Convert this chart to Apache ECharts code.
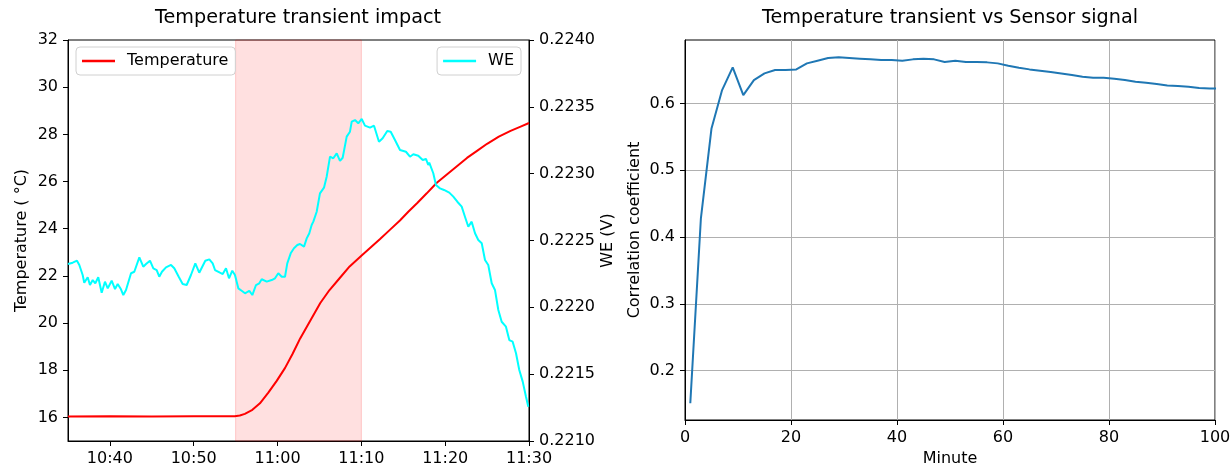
<!DOCTYPE html>
<html><head><meta charset="utf-8">
<script src="https://cdn.jsdelivr.net/npm/echarts@6/dist/echarts.min.js"></script>
<style>html,body{margin:0;padding:0;background:#fff}#c{width:1231px;height:466px}</style>
</head><body><div id="c"></div>
<script>
// time values are minutes after 10:00
const tempTime = [35, 40, 45, 50, 54.9, 55.5, 56.1, 57.0, 57.9, 58.9, 59.9, 60.9, 61.8, 62.7, 63.9, 65.1, 66.2, 67.4, 68.6, 70.0, 71.1, 72.2, 73.4, 74.6, 75.6, 76.7, 77.8, 79.0, 80.2, 81.4, 82.6, 83.8, 85.0, 86.4, 87.8, 89.0, 90.0];
const tempValue = [16.04, 16.05, 16.04, 16.05, 16.05, 16.08, 16.15, 16.32, 16.6, 17.05, 17.55, 18.1, 18.7, 19.35, 20.1, 20.85, 21.4, 21.9, 22.4, 22.85, 23.2, 23.55, 23.95, 24.35, 24.72, 25.1, 25.5, 25.95, 26.3, 26.65, 27.0, 27.3, 27.6, 27.9, 28.15, 28.33, 28.48];

const weTime = [35.00, 35.56, 36.07, 36.35, 36.75, 36.94, 37.35, 37.62, 37.95, 38.26, 38.61, 39.02, 39.41, 39.74, 40.21, 40.61, 40.93, 41.32, 41.60, 41.92, 42.52, 42.91, 43.51, 43.98, 44.31, 44.78, 45.18, 45.58, 45.89, 46.21, 46.69, 47.29, 47.68, 48.21, 48.68, 49.16, 49.67, 50.19, 50.66, 51.38, 51.86, 52.26, 52.54, 53.13, 53.46, 53.85, 54.21, 54.60, 54.92, 55.32, 55.72, 56.12, 56.63, 56.99, 57.43, 57.82, 58.11, 58.71, 59.30, 59.70, 60.09, 60.50, 60.89, 61.16, 61.57, 61.96, 62.36, 62.68, 63.16, 63.48, 63.79, 64.07, 64.27, 64.67, 65.06, 65.54, 65.86, 66.26, 66.65, 67.06, 67.45, 67.77, 68.25, 68.64, 68.85, 69.24, 69.63, 70.04, 70.43, 71.03, 71.51, 72.10, 72.54, 73.09, 73.50, 74.01, 74.61, 75.32, 75.80, 76.20, 76.79, 77.32, 77.71, 77.98, 78.10, 78.58, 78.90, 79.38, 79.86, 80.49, 80.97, 81.45, 81.97, 82.36, 82.76, 83.16, 83.56, 83.95, 84.36, 84.75, 85.14, 85.55, 85.94, 86.34, 86.74, 87.25, 87.65, 88.05, 88.45, 88.84, 89.25, 89.64, 89.92];
const weValue = [0.222324, 0.222334, 0.222349, 0.222317, 0.222242, 0.222184, 0.222225, 0.222167, 0.222204, 0.222180, 0.222225, 0.222109, 0.222192, 0.222142, 0.222199, 0.222137, 0.222174, 0.222135, 0.222092, 0.222130, 0.222255, 0.222266, 0.222374, 0.222304, 0.222324, 0.222349, 0.222292, 0.222279, 0.222229, 0.222266, 0.222299, 0.222317, 0.222292, 0.222229, 0.222174, 0.222167, 0.222242, 0.222329, 0.222259, 0.222349, 0.222359, 0.222329, 0.222279, 0.222259, 0.222249, 0.222292, 0.222217, 0.222274, 0.222242, 0.222142, 0.222124, 0.222105, 0.222124, 0.222092, 0.222167, 0.222180, 0.222210, 0.222192, 0.222204, 0.222217, 0.222255, 0.222229, 0.222229, 0.222329, 0.222404, 0.222442, 0.222466, 0.222474, 0.222454, 0.222516, 0.222554, 0.222616, 0.222641, 0.222715, 0.222853, 0.222895, 0.222977, 0.223127, 0.223115, 0.223152, 0.223095, 0.223119, 0.223277, 0.223314, 0.223389, 0.223401, 0.223377, 0.223409, 0.223359, 0.223344, 0.223359, 0.223239, 0.223265, 0.223319, 0.223314, 0.223252, 0.223177, 0.223164, 0.223127, 0.223145, 0.223134, 0.223102, 0.223110, 0.223065, 0.223082, 0.223003, 0.222915, 0.222890, 0.222878, 0.222858, 0.222828, 0.222790, 0.222753, 0.222678, 0.222603, 0.222641, 0.222554, 0.222504, 0.222479, 0.222354, 0.222317, 0.222180, 0.222130, 0.221980, 0.221892, 0.221855, 0.221755, 0.221743, 0.221656, 0.221531, 0.221444, 0.221331, 0.221256];

const corrMinute = [1, 3, 5, 7, 9, 11, 13, 15, 17, 19, 21, 23, 25, 27, 29, 31, 33, 35, 37, 39, 41, 43, 45, 47, 49, 51, 53, 55, 57, 59, 61, 63, 65, 67, 69, 71, 73, 75, 77, 79, 81, 83, 85, 87, 89, 91, 93, 95, 97, 99, 101];
const corrValue = [0.151, 0.428, 0.5625, 0.620, 0.654, 0.6125, 0.635, 0.645, 0.650, 0.650, 0.651, 0.660, 0.664, 0.668, 0.669, 0.668, 0.667, 0.666, 0.665, 0.665, 0.664, 0.666, 0.667, 0.666, 0.662, 0.664, 0.662, 0.662, 0.6615, 0.660, 0.6565, 0.6535, 0.651, 0.649, 0.647, 0.645, 0.6425, 0.640, 0.6385, 0.6385, 0.637, 0.635, 0.6325, 0.631, 0.629, 0.627, 0.626, 0.625, 0.623, 0.6225, 0.622];

const timeTicks = [40, 50, 60, 70, 80, 90];
const tempTicks = [16, 18, 20, 22, 24, 26, 28, 30, 32];
const weTicks = [0.2210, 0.2215, 0.2220, 0.2225, 0.2230, 0.2235, 0.2240];
const minuteTicks = [0, 20, 40, 60, 80, 100];
const corrTicks = [0.2, 0.3, 0.4, 0.5, 0.6];
const spanStart = 55, spanEnd = 70;

const FONT = 'DejaVu Sans';
const zip = (a, b) => a.map((v, i) => [v, b[i]]);
const fmtTime = v => { const h = 10 + Math.floor(v / 60); const m = Math.round(v % 60); return h + ':' + String(m).padStart(2, '0'); };

const lbl = { color: '#000', fontSize: 16, fontFamily: FONT, margin: 10 };
const tick = { show: true, inside: false, length: 5, lineStyle: { color: '#000', width: 1 } };
const line = { show: true, onZero: false, lineStyle: { color: '#000', width: 1 } };
const nameStyle = { color: '#000', fontSize: 16, fontFamily: FONT };

const chart = echarts.init(document.getElementById('c'), null, { renderer: 'canvas' });
chart.setOption({
  animation: false,
  backgroundColor: '#fff',
  textStyle: { fontFamily: FONT },
  title: [
    { text: 'Temperature transient impact', left: 298, top: 9, textAlign: 'center', padding: 0,
      textStyle: { fontSize: 19.2, fontWeight: 'normal', color: '#000', fontFamily: FONT } },
    { text: 'Temperature transient vs Sensor signal', left: 950, top: 9, textAlign: 'center', padding: 0,
      textStyle: { fontSize: 19.2, fontWeight: 'normal', color: '#000', fontFamily: FONT } }
  ],
  legend: [
    { data: ['Temperature'], left: 76, top: 47, orient: 'vertical', padding: [6, 7, 6, 6],
      icon: 'rect', itemWidth: 33, itemHeight: 2.5, borderColor: '#d0d0d0', borderWidth: 1, borderRadius: 4,
      backgroundColor: 'rgba(255,255,255,0.8)', textStyle: { fontSize: 16, color: '#000', fontFamily: FONT, padding: [0, 0, 0, 7] }, selectedMode: false },
    { data: ['WE'], right: 710, top: 47, orient: 'vertical', padding: [6, 7, 6, 6],
      icon: 'rect', itemWidth: 33, itemHeight: 2.5, borderColor: '#d0d0d0', borderWidth: 1, borderRadius: 4,
      backgroundColor: 'rgba(255,255,255,0.8)', textStyle: { fontSize: 16, color: '#000', fontFamily: FONT, padding: [0, 0, 0, 7] }, selectedMode: false }
  ],
  grid: [
    { left: 68, top: 40, width: 461, height: 401, show: true, borderColor: '#000', borderWidth: 1, backgroundColor: 'transparent', containLabel: false, outerBoundsMode: 'none' },
    { left: 685, top: 40, width: 530, height: 380, show: true, borderColor: '#000', borderWidth: 1, backgroundColor: 'transparent', containLabel: false, outerBoundsMode: 'none' }
  ],
  xAxis: [
    { type: 'value', gridIndex: 0, min: 35, max: 90, axisLine: line,
      axisTick: Object.assign({}, tick, { customValues: timeTicks }),
      axisLabel: Object.assign({}, lbl, { customValues: timeTicks, formatter: fmtTime }),
      splitLine: { show: false } },
    { type: 'value', gridIndex: 1, min: 0, max: 100, interval: 20, axisLine: line,
      axisTick: tick, axisLabel: Object.assign({}, lbl),
      splitLine: { show: true, lineStyle: { color: '#b0b0b0', width: 1 } },
      name: 'Minute', nameLocation: 'middle', nameGap: 31, nameTextStyle: nameStyle }
  ],
  yAxis: [
    { type: 'value', gridIndex: 0, position: 'left', min: 15, max: 32, axisLine: line,
      axisTick: Object.assign({}, tick, { customValues: tempTicks }),
      axisLabel: Object.assign({}, lbl, { customValues: tempTicks }),
      splitLine: { show: false },
      name: 'Temperature ( \u00b0C)', nameLocation: 'middle', nameGap: 38, nameTextStyle: nameStyle },
    { type: 'value', gridIndex: 0, position: 'right', min: 0.2210, max: 0.2240, axisLine: line,
      axisTick: Object.assign({}, tick, { customValues: weTicks }),
      axisLabel: Object.assign({}, lbl, { customValues: weTicks, formatter: v => v.toFixed(4) }),
      splitLine: { show: false },
      name: 'WE (V)', nameLocation: 'middle', nameGap: 71, nameTextStyle: nameStyle },
    { type: 'value', gridIndex: 1, min: 0.126, max: 0.695, splitNumber: 5, axisLine: line,
      axisTick: Object.assign({}, tick, { customValues: corrTicks }),
      axisLabel: Object.assign({}, lbl, { customValues: corrTicks, formatter: v => v.toFixed(1) }),
      splitLine: { show: true, lineStyle: { color: '#b0b0b0', width: 1 } },
      name: 'Correlation coefficient', nameLocation: 'middle', nameGap: 42, nameTextStyle: nameStyle }
  ],
  series: [
    { name: 'Temperature', type: 'line', xAxisIndex: 0, yAxisIndex: 0, data: zip(tempTime, tempValue),
      showSymbol: false, symbol: 'none', smooth: false, color: '#ff0000', lineStyle: { color: '#ff0000', width: 2 }, z: 3,
      markArea: { silent: true, itemStyle: { color: 'rgba(255,0,0,0.12)', borderColor: 'rgba(255,0,0,0.18)', borderWidth: 1 },
        data: [[{ xAxis: spanStart }, { xAxis: spanEnd }]] } },
    { name: 'WE', type: 'line', xAxisIndex: 0, yAxisIndex: 1, data: zip(weTime, weValue),
      showSymbol: false, symbol: 'none', color: '#00ffff', lineStyle: { color: '#00ffff', width: 2 }, z: 4 },
    { name: 'corr', type: 'line', xAxisIndex: 1, yAxisIndex: 2, data: zip(corrMinute, corrValue), clip: true,
      showSymbol: false, symbol: 'none', color: '#1f77b4', lineStyle: { color: '#1f77b4', width: 2 }, z: 3 }
  ]
});
</script></body></html>
